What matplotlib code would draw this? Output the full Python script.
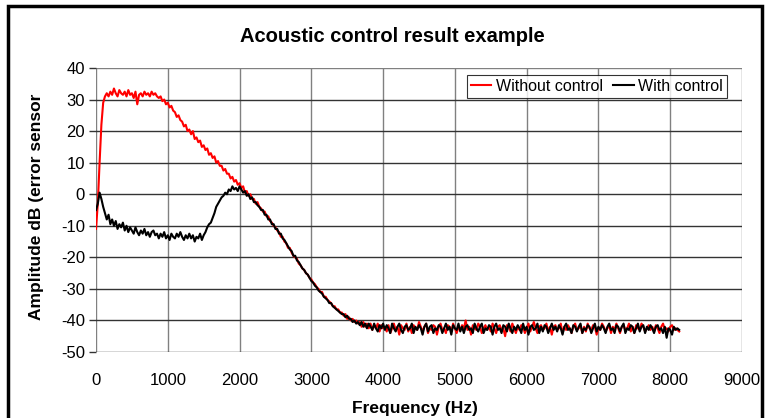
import numpy as np
import matplotlib.pyplot as plt
from matplotlib.patches import Rectangle

# spectra, one value every 25 Hz starting at 0 Hz
step_hz = 25

without_control = [
    -11, -3, 10, 22, 29, 31, 32, 31, 32.5, 31.5, 33.5, 32, 31, 33, 32, 31.5, 32.5, 31, 33, 31.5,
    32, 30.5, 32.5, 28.5, 31.5, 32, 31, 32.5, 31.5, 32, 31, 32.5, 31.5, 32, 31, 30.5, 31, 29.5,
    30, 28.5, 29, 27.5, 28, 26.5, 26, 24.5, 25, 23.5, 23, 21.5, 22, 20, 20.5, 19, 20, 17.5, 18,
    16.5, 17, 15, 15.5, 14, 14.5, 12.5, 13, 11.5, 12, 10, 10.5, 9, 9, 7.5, 8, 6.5, 6.5, 5, 5.5,
    4, 4.5, 3, 3.5, 2, 2.5, 0.5, 1, -0.5, 0, -1.5, -1.5, -3, -2.5, -4, -4.5, -5.5, -5.5, -7, -7,
    -8.5, -9, -10, -10.5, -11.5, -12, -13.5, -13.5, -15, -15.5, -17, -17, -18.5, -19.5, -20,
    -20.5, -22, -22.5, -23.5, -24, -25, -25.5, -26.5, -27, -28, -28.5, -29.5, -30, -31, -31,
    -32.5, -32.5, -33.5, -34, -34.5, -35.5, -35.5, -36.5, -36.5, -37.5, -37.5, -38.5, -38,
    -39.5, -39, -40, -39.5, -40.5, -40, -41, -40.5, -42, -40.5, -42, -41, -42.5, -41, -43,
    -41.5, -42.5, -41, -43.5, -41.5, -42.5,
    -42, -43.5, -41.5, -44, -42.5, -41, -43, -42, -44.5, -41.5, -42.5, -43, -41, -43.5, -42,
    -44, -41.5, -42.5, -43, -40.5, -42, -43.5, -42, -41, -44, -42.5, -43, -41.5, -42, -44.5,
    -42, -41, -43, -42.5, -44, -41.5, -42, -43.5, -41, -42.5, -44, -42, -43, -41.5, -42.5,
    -40, -43, -42, -44.5, -41.5, -42.5, -43, -41, -42, -44, -42.5, -41.5, -43, -42, -43.5,
    -41, -42.5, -44, -42, -41.5, -43, -42.5, -45, -41.5, -42, -43.5, -41, -42.5, -44, -42,
    -43, -41.5, -42, -44, -42.5, -41, -43.5, -42, -40.5, -42.5, -44, -42, -41.5, -43, -42.5,
    -41, -43.5, -42, -44.5, -42, -41.5, -43, -42.5, -41, -44, -42, -43, -41.5, -42.5, -44,
    -42, -41, -43, -42.5, -41.5, -44, -42, -43.5, -41, -42.5, -43, -41.5, -42, -44.5, -42.5,
    -43, -41, -42, -43.5, -42.5, -41.5, -44, -42, -43, -41, -42.5, -44, -42, -41.5, -43,
    -42.5, -41, -43.5, -42, -44, -41.5, -42.5, -43, -41, -42, -43.5, -42.5, -41.5, -43, -42,
    -43.5, -41.5, -42.5, -44, -42, -41, -43, -42.5, -43.5, -42, -41.5, -43, -42.5, -43, -43.5,
]

with_control = [
    -5, -3, 0.5, -1.5, -4, -6, -8, -6.5, -9.5, -8, -10, -8.5, -11, -9.5, -10.5, -9, -11.5, -10,
    -12, -10.5, -11.5, -12.5, -10.5, -12, -13, -11.5, -12.5, -11, -13, -12, -13.5, -12, -11.5,
    -13, -12.5, -14, -12.5, -13.5, -12, -14, -13, -14.5, -12.5, -13.5, -14, -12.5, -13.5, -12,
    -13.5, -14.5, -13, -14, -12.5, -14, -13, -15, -13.5, -14, -12.5, -14.5, -13, -12, -10.5,
    -9.5, -9, -7.5, -6, -4, -3, -2, -1, -0.5, 0.5, 0, 1.5, 1, 2.5, 1.5, 2, 1, 2.5, 1.5, 0.5, 1,
    -0.5, 0, -1.5, -1, -2.5, -2.5, -3.5, -4, -5, -5, -6.5, -6.5, -8, -8, -9.5, -9.5, -11, -11,
    -12.5, -12.5, -14, -14.5, -15.5, -16.5, -17.5, -18, -19.5, -19.5, -21, -21.5, -22.5, -23.5,
    -24, -25, -25.5, -26.5, -27.5, -28, -29, -29.5, -30.5, -31, -31.5, -32.5, -33, -33.5,
    -34.5, -34.5, -35.5, -36, -36.5, -37, -37.5, -38, -38, -39, -38.5, -39.5, -39.5, -40.5,
    -40, -41, -40.5, -41.5, -40.5, -42, -41, -42.5, -41, -42, -43, -41, -42.5, -43.5, -41.5,
    -42.5, -41,
    -43, -41.5, -42.5, -44, -41, -42.5, -43.5, -42, -41, -43, -44, -42, -41.5, -43, -42.5,
    -41, -44, -42, -43, -41.5, -42.5, -44.5, -42, -41, -43.5, -42, -41.5, -44, -42.5, -43,
    -41.5, -42, -44, -42.5, -41, -43, -42, -44.5, -41.5, -42.5, -43, -41, -43.5, -42, -44,
    -42, -41.5, -43, -42.5, -44, -41, -42.5, -43.5, -42, -41, -44, -42.5, -43, -41.5, -42,
    -44.5, -42, -41, -43, -42.5, -44, -41.5, -42, -43.5, -41, -42.5, -44, -42, -43, -41.5,
    -42.5, -44, -41, -43, -42, -44.5, -42, -41.5, -43, -42.5, -41, -44, -42, -43.5, -41.5,
    -42, -44, -42.5, -41, -43, -42, -43.5, -41.5, -42.5, -44.5, -42, -41, -43, -42.5, -44,
    -41.5, -42, -43.5, -42, -41, -44, -42.5, -43, -41.5, -42, -44, -42.5, -41, -43.5, -42,
    -43, -41.5, -42.5, -44, -42, -41, -43, -42.5, -44, -41.5, -42, -43.5, -42, -41, -44,
    -42.5, -43, -41.5, -42, -44, -42.5, -41, -43.5, -42, -41.5, -44, -42, -43, -41.5, -42.5,
    -44, -42, -41.5, -43, -42.5, -44, -42, -45.5, -42.5, -43, -44.5, -42, -43, -42.5, -43,
]

x_ticks = [0, 1000, 2000, 3000, 4000, 5000, 6000, 7000, 8000, 9000]
y_ticks = [-50, -40, -30, -20, -10, 0, 10, 20, 30, 40]

plt.rcParams['font.family'] = ['Liberation Sans', 'DejaVu Sans']
plt.rcParams['axes.unicode_minus'] = False

fig = plt.figure(figsize=(7.7, 4.18), dpi=100)
ax = fig.add_axes([96 / 770, 1 - 352 / 418, (742 - 96) / 770, (352 - 68) / 418])

f_red = np.arange(len(without_control)) * step_hz
f_blk = np.arange(len(with_control)) * step_hz
ax.plot(f_red, without_control, color='#ff0000', lw=1.5, label='Without control')
ax.plot(f_blk, with_control, color='black', lw=1.5, label='With control')

ax.set_xlim(0, 9000)
ax.set_ylim(-50, 40)
ax.set_xticks(x_ticks)
ax.set_yticks(y_ticks)
ax.tick_params(axis='x', length=0, pad=15, labelsize=12)
ax.tick_params(axis='y', length=5, width=1, color='#333333', pad=3, labelsize=12)

# gridlines: dark horizontal, grey vertical
for v in x_ticks:
    ax.axvline(v, color='#808080', lw=1, zorder=0)
for v in y_ticks:
    ax.axhline(v, color='#808080' if v == 40 else '#333333', lw=1, zorder=0)
for s in ax.spines.values():
    s.set_visible(False)

fig.text(392 / 770, 1 - 37 / 418, 'Acoustic control result example', fontsize=14.5,
         fontweight='bold', ha='center', va='center')
fig.text(415 / 770, 1 - 408 / 418, 'Frequency (Hz)', fontsize=12.5, fontweight='bold',
         ha='center', va='center')
fig.text(37 / 770, 1 - 207 / 418, 'Amplitude dB (error sensor', fontsize=12.5,
         fontweight='bold', rotation=90, ha='center', va='center')

leg = ax.legend(loc='upper right', bbox_to_anchor=(0.977, 0.977), ncol=2, fontsize=11.5,
                frameon=True, fancybox=False, handlelength=1.3, handletextpad=0.3,
                columnspacing=0.6, borderpad=0.25, borderaxespad=0)
leg.get_frame().set_edgecolor('black')
leg.get_frame().set_linewidth(0.8)

# outer chart frame
fig.patches.append(Rectangle((8 / 770, -0.1), (762 - 8) / 770, 1.1 - 6 / 418,
                             transform=fig.transFigure, fill=False, edgecolor='black', lw=2.5))

fig.savefig('out.png', dpi=100)
